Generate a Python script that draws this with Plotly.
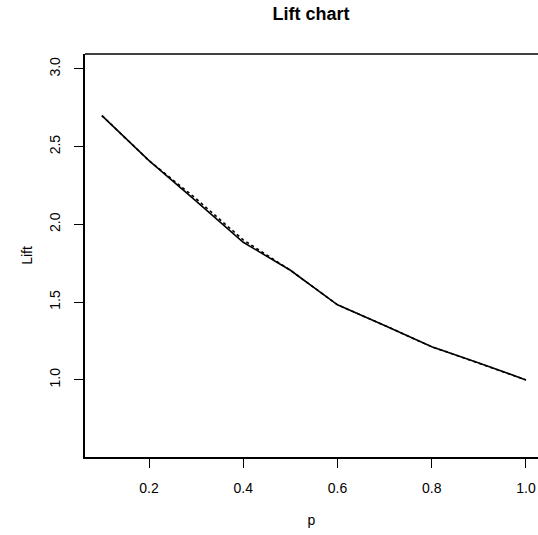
import plotly.graph_objects as go

p = [0.1, 0.2, 0.3, 0.4, 0.5, 0.6, 0.7, 0.8, 0.9, 1.0]
lift_solid = [2.70, 2.41, 2.15, 1.885, 1.705, 1.483, 1.35, 1.213, 1.108, 1.0]
lift_dashed = [2.70, 2.41, 2.165, 1.90, 1.705, 1.483, 1.35, 1.213, 1.108, 1.0]
x_ticks = [0.2, 0.4, 0.6, 0.8, 1.0]
y_ticks = [1.0, 1.5, 2.0, 2.5, 3.0]

FONT = "Liberation Sans, Arial, sans-serif"

W, H = 538, 535

fig = go.Figure()
fig.add_trace(go.Scatter(x=p, y=lift_dashed, mode="lines",
                         line=dict(color="black", width=1.6, dash="3px,3px"),
                         showlegend=False))
fig.add_trace(go.Scatter(x=p, y=lift_solid, mode="lines",
                         line=dict(color="black", width=1.6),
                         showlegend=False))

fig.update_layout(
    width=W, height=H,
    margin=dict(l=85, r=0, t=54, b=78),
    paper_bgcolor="white", plot_bgcolor="white",
    font=dict(family=FONT, color="black", size=14),
    title=dict(text="<b>Lift chart</b>", x=311 / W, xanchor="center",
               y=1 - 14 / H, yanchor="middle",
               font=dict(size=18, family=FONT, color="black")),
    xaxis=dict(range=[0.0641, 1.0255], tickvals=x_ticks,
               ticktext=[f"{v:.1f}" for v in x_ticks],
               tickfont=dict(size=14),
               showgrid=False, zeroline=False,
               showline=True, linecolor="black", linewidth=1.5,
               ticks="outside", ticklen=9, tickwidth=1.3, tickcolor="black",
               ticklabelstandoff=8,
               title=dict(text="p", standoff=21, font=dict(size=14))),
    yaxis=dict(range=[0.504, 3.096], tickvals=y_ticks,
               ticktext=[f"{v:.1f}" for v in y_ticks],
               tickfont=dict(size=14),
               tickangle=-90,
               showgrid=False, zeroline=False,
               showline=True, linecolor="black", linewidth=1.5,
               ticks="outside", ticklen=9, tickwidth=1.3, tickcolor="black",
               ticklabelstandoff=9,
               title=dict(text="Lift", standoff=11, font=dict(size=14))),
    shapes=[dict(type="line", xref="paper", yref="paper", x0=0, x1=1, y0=1, y1=1,
                 line=dict(color="black", width=1.5))],
)

fig.write_html(
    "out.html",
    config={"displayModeBar": False},
    post_script="document.body.style.margin='0';document.body.style.overflow='hidden';",
)
